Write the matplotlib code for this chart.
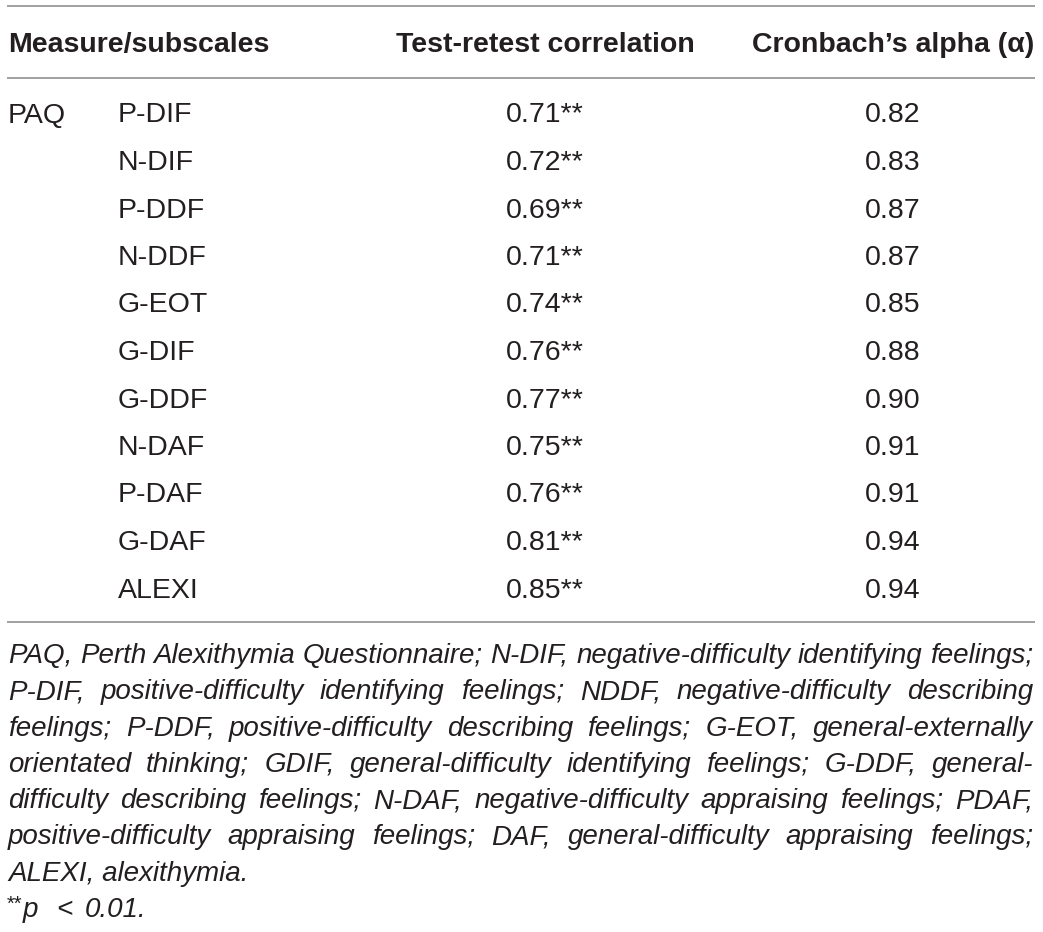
import matplotlib
matplotlib.use("Agg")
import matplotlib.pyplot as plt

# --- dados da tabela ---
medida = "PAQ"
subescalas = ["P-DIF", "N-DIF", "P-DDF", "N-DDF", "G-EOT", "G-DIF",
              "G-DDF", "N-DAF", "P-DAF", "G-DAF", "ALEXI"]
teste_reteste = [0.71, 0.72, 0.69, 0.71, 0.74, 0.76, 0.77, 0.75, 0.76, 0.81, 0.85]
alfa_cronbach = [0.82, 0.83, 0.87, 0.87, 0.85, 0.88, 0.90, 0.91, 0.91, 0.94, 0.94]
cabecalhos = ["Measure/subscales", "Test-retest correlation", "Cronbach\u2019s alpha (\u03b1)"]

nota_linhas = [
    "PAQ, Perth Alexithymia Questionnaire; N-DIF, negative-difficulty identifying feelings;",
    "P-DIF, positive-difficulty identifying feelings; NDDF, negative-difficulty describing",
    "feelings; P-DDF, positive-difficulty describing feelings; G-EOT, general-externally",
    "orientated thinking; GDIF, general-difficulty identifying feelings; G-DDF, general-",
    "difficulty describing feelings; N-DAF, negative-difficulty appraising feelings; PDAF,",
    "positive-difficulty appraising feelings; DAF, general-difficulty appraising feelings;",
    "ALEXI, alexithymia.",
]

W, H = 1043, 932
COR_TEXTO = "#231f20"
COR_LINHA = "#9a9a9a"
FONTE = ["Liberation Sans", "DejaVu Sans"]
TAM = 20.5
TAM_NOTA = 20

fig = plt.figure(figsize=(W / 100, H / 100), dpi=100)
fig.patch.set_facecolor("white")
ax = fig.add_axes([0, 0, 1, 1])
ax.set_xlim(0, W)
ax.set_ylim(H, 0)
ax.axis("off")

X0, X1 = 7, 1035
col_med, col_sub, col_tr, col_alfa = 8, 118, 545, 893

# --- linhas horizontais ---
for y in (6, 78, 622):
    ax.plot([X0, X1], [y, y], color=COR_LINHA, lw=1.3, solid_capstyle="butt")

# --- cabeçalho ---
y_cab = 52
ax.text(col_med, y_cab, cabecalhos[0], ha="left", va="baseline", fontsize=TAM,
        fontweight="bold", family=FONTE, color=COR_TEXTO)
ax.text(col_tr, y_cab, cabecalhos[1], ha="center", va="baseline", fontsize=TAM,
        fontweight="bold", family=FONTE, color=COR_TEXTO)
ax.text(col_alfa, y_cab, cabecalhos[2], ha="center", va="baseline", fontsize=TAM,
        fontweight="bold", family=FONTE, color=COR_TEXTO)

# --- linhas da tabela ---
y0, passo = 122.5, 47.5
for i, (sub, tr, al) in enumerate(zip(subescalas, teste_reteste, alfa_cronbach)):
    y = y0 + i * passo
    if i == 0:
        ax.text(col_med, y, medida, ha="left", va="baseline", fontsize=TAM,
                family=FONTE, color=COR_TEXTO)
    ax.text(col_sub, y, sub, ha="left", va="baseline", fontsize=TAM,
            family=FONTE, color=COR_TEXTO)
    ax.text(col_tr, y, f"{tr:.2f}**", ha="center", va="baseline", fontsize=TAM,
            family=FONTE, color=COR_TEXTO)
    ax.text(col_alfa, y, f"{al:.2f}", ha="center", va="baseline", fontsize=TAM,
            family=FONTE, color=COR_TEXTO)

# --- nota de rodapé justificada ---
renderer = fig.canvas.get_renderer()


def largura(txt):
    t = ax.text(0, 0, txt, fontsize=TAM_NOTA, family=FONTE, style="italic")
    w = t.get_window_extent(renderer).width
    t.remove()
    return w


y_nota, passo_nota = 663, 36.3
for j, linha in enumerate(nota_linhas):
    y = y_nota + j * passo_nota
    palavras = linha.split(" ")
    justificar = j < len(nota_linhas) - 1
    if justificar:
        larguras = [largura(p) for p in palavras]
        espaco = (X1 - 2 - col_med - sum(larguras)) / (len(palavras) - 1)
        x = col_med
        for p, w in zip(palavras, larguras):
            ax.text(x, y, p, ha="left", va="baseline", fontsize=TAM_NOTA,
                    family=FONTE, style="italic", color=COR_TEXTO)
            x += w + espaco
    else:
        ax.text(col_med, y, linha, ha="left", va="baseline", fontsize=TAM_NOTA,
                family=FONTE, style="italic", color=COR_TEXTO)

# --- nível de significância ---
y_p = y_nota + len(nota_linhas) * passo_nota
ax.text(col_med - 1, y_p - 7, "**", ha="left", va="baseline", fontsize=TAM_NOTA * 0.72,
        family=FONTE, color=COR_TEXTO)
for x, trecho in ((23, "p"), (56, "<"), (85, "0.01.")):
    ax.text(x, y_p, trecho, ha="left", va="baseline", fontsize=TAM_NOTA,
            family=FONTE, style="italic", color=COR_TEXTO)

fig.savefig("out.png", dpi=100, facecolor="white")
